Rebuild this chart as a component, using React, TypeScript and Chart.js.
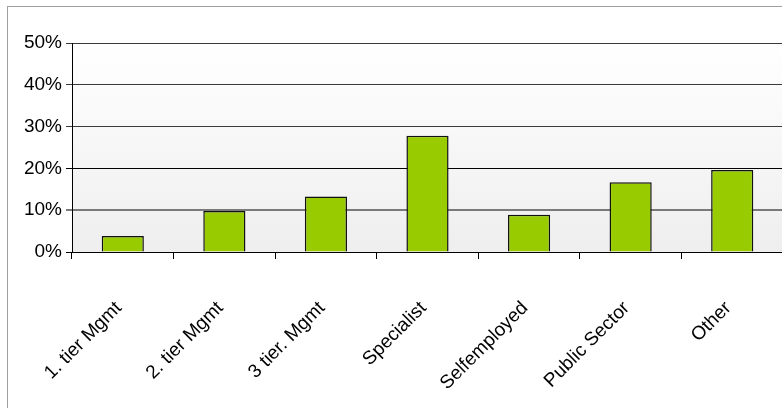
import React, { useEffect, useRef } from "react";
import { Chart, registerables } from "chart.js";

Chart.register(...registerables);

const categories = [
  "1. tier Mgmt",
  "2. tier Mgmt",
  "3 tier. Mgmt",
  "Specialist",
  "Selfemployed",
  "Public Sector",
  "Other",
];
const shares = [3.8, 9.8, 13.3, 27.8, 8.9, 16.7, 19.6];
const yMin = 0;
const yMax = 50;
const yStep = 10;

const gridColorFor = (v: number) => {
  if (v === 0) return "#000000";
  if (v === 10) return "#7a7a7a";
  if (v === 20) return "#000000";
  return "#3a3a3a";
};

export default function App() {
  const ref = useRef<HTMLCanvasElement | null>(null);

  useEffect(() => {
    if (!ref.current) return;
    const bgPlugin = {
      id: "plotBg",
      beforeDraw(chart: any) {
        const { ctx, chartArea } = chart;
        const { left, top, right, bottom } = chartArea;
        const g = ctx.createLinearGradient(0, top, 0, bottom);
        g.addColorStop(0, "#ffffff");
        g.addColorStop(1, "#eeeeee");
        ctx.save();
        ctx.fillStyle = g;
        ctx.fillRect(left, top, right - left, bottom - top);
        ctx.restore();
      },
    };
    const chart = new Chart(ref.current, {
      type: "bar",
      data: {
        labels: categories,
        datasets: [
          {
            data: shares,
            backgroundColor: "#99cc00",
            borderColor: "#111111",
            borderWidth: 1.5,
            barPercentage: 0.83,
            categoryPercentage: 0.5,
          },
        ],
      },
      options: {
        responsive: false,
        animation: false,
        devicePixelRatio: 1,
        layout: { padding: { top: 36, right: 15, left: 0, bottom: 0 } },
        plugins: {
          legend: { display: false },
          tooltip: { enabled: false },
        },
        scales: {
          x: {
            grid: {
              offset: true,
              drawOnChartArea: false,
              tickLength: 7,
              color: "#000000",
            },
            border: { color: "#000000", width: 1 },
            ticks: {
              minRotation: 45,
              maxRotation: 45,
              autoSkip: false,
              padding: 38,
              labelOffset: -4,
              color: "#000000",
              font: { family: "Liberation Sans", size: 19 },
            },
            afterFit: (s: any) => {
              s.height = 167;
              s.paddingLeft = 0;
              s.paddingRight = 0;
            },
          },
          y: {
            min: yMin,
            max: yMax,
            grid: {
              tickLength: 6,
              color: (c: any) => gridColorFor(c.tick ? c.tick.value : 0),
              lineWidth: (c: any) => (c.tick && c.tick.value === 10 ? 2 : 1),
            },
            border: { color: "#000000", width: 1 },
            ticks: {
              stepSize: yStep,
              padding: 4,
              color: "#000000",
              font: { family: "Liberation Sans", size: 19 },
              callback: (v: any) => `${v}%`,
            },
            afterFit: (s: any) => {
              s.width = 64;
            },
          },
        },
      },
      plugins: [bgPlugin],
    });
    return () => chart.destroy();
  }, []);

  return (
    <div
      style={{
        position: "fixed",
        left: 0,
        top: 0,
        width: 782,
        height: 408,
        overflow: "hidden",
        background: "#ffffff",
      }}
    >
      <div
        style={{
          position: "absolute",
          left: 7,
          top: 6,
          width: 790,
          height: 412,
          borderLeft: "1px solid #a0a0a0",
          borderTop: "1px solid #a0a0a0",
        }}
      >
        <canvas ref={ref} width={790} height={412} style={{ display: "block" }} />
      </div>
    </div>
  );
}
